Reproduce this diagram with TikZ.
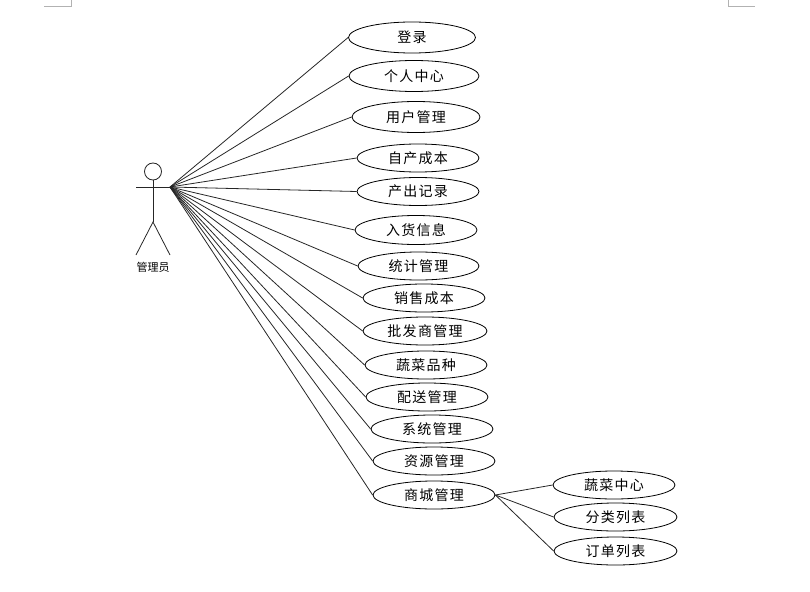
\documentclass[tikz,border=0pt]{standalone}
\usepackage{fontspec}
\usetikzlibrary{shapes.geometric}
\newfontfamily\cjk[LetterSpace=9]{Noto Sans CJK SC}
\newfontfamily\cjksmall{Noto Sans CJK SC}
\tikzset{
  usecase/.style={draw=black,fill=white,ellipse,inner sep=0pt,line width=0.8pt,font=\cjk\fontsize{14}{15}\selectfont},
  link/.style={draw=black!85,line width=0.8pt},
  stick/.style={draw=black!85,line width=0.8pt},
  crop/.style={draw=black!30,line width=0.8pt},
  actorname/.style={inner sep=0pt,font=\cjksmall\fontsize{11}{12}\selectfont}
}
\newcommand{\uc}[6]{\node[usecase,minimum width=#3pt,minimum height=#4pt] (#1) at (#2pt,-#5pt) {#6};}
\begin{document}
\begin{tikzpicture}[x=1pt,y=1pt]
\useasboundingbox (0,0) rectangle (810,-591);
% page corner marks
\draw[crop] (44,-6) -- (71,-6) -- (71,0);
\draw[crop] (755,-6) -- (728,-6) -- (728,0);
% actor
\node[draw=black!85,circle,line width=0.8pt,minimum size=17pt,inner sep=0pt] (head) at (153,-171.5) {};
\coordinate (hip) at (153,-222);
\coordinate (armL) at (136,-187);
\coordinate (armR) at (170,-187);
\coordinate (footL) at (136,-255);
\coordinate (footR) at (170,-255);
\draw[stick] (head.south) -- (hip);
\draw[stick] (armL) -- (armR);
\draw[stick] (footL) -- (hip) -- (footR);
\node[actorname] (actor) at (153,-267.5) {管理员};
% use cases
\uc{a}{412}{127}{31}{37.5}{登录}
\uc{b}{414}{130}{31}{76}{个人中心}
\uc{c}{416}{128}{31}{117}{用户管理}
\uc{d}{418}{122}{28}{158}{自产成本}
\uc{e}{418}{122}{28}{191.5}{产出记录}
\uc{f}{416}{122}{29}{230}{入货信息}
\uc{g}{418.5}{121}{28}{266}{统计管理}
\uc{h}{424}{122}{28}{298}{销售成本}
\uc{i}{425}{124}{28}{331}{批发商管理}
\uc{j}{426}{122}{28}{365}{蔬菜品种}
\uc{k}{427}{122}{28}{397}{配送管理}
\uc{l}{432}{122}{28}{429}{系统管理}
\uc{m}{434}{122}{28}{461}{资源管理}
\uc{n}{434}{122}{28}{495}{商城管理}
\uc{o}{614}{122}{28}{485}{蔬菜中心}
\uc{p}{615.5}{123}{28}{517}{分类列表}
\uc{q}{615.5}{123}{28}{551}{订单列表}
% connectors
\foreach \t in {a,b,c,d,e,f,g,h,i,j,k,l,m,n} \draw[link] (armR) -- (\t.west);
\foreach \t in {o,p,q} \draw[link] (n.east) -- (\t.west);
\end{tikzpicture}
\end{document}
